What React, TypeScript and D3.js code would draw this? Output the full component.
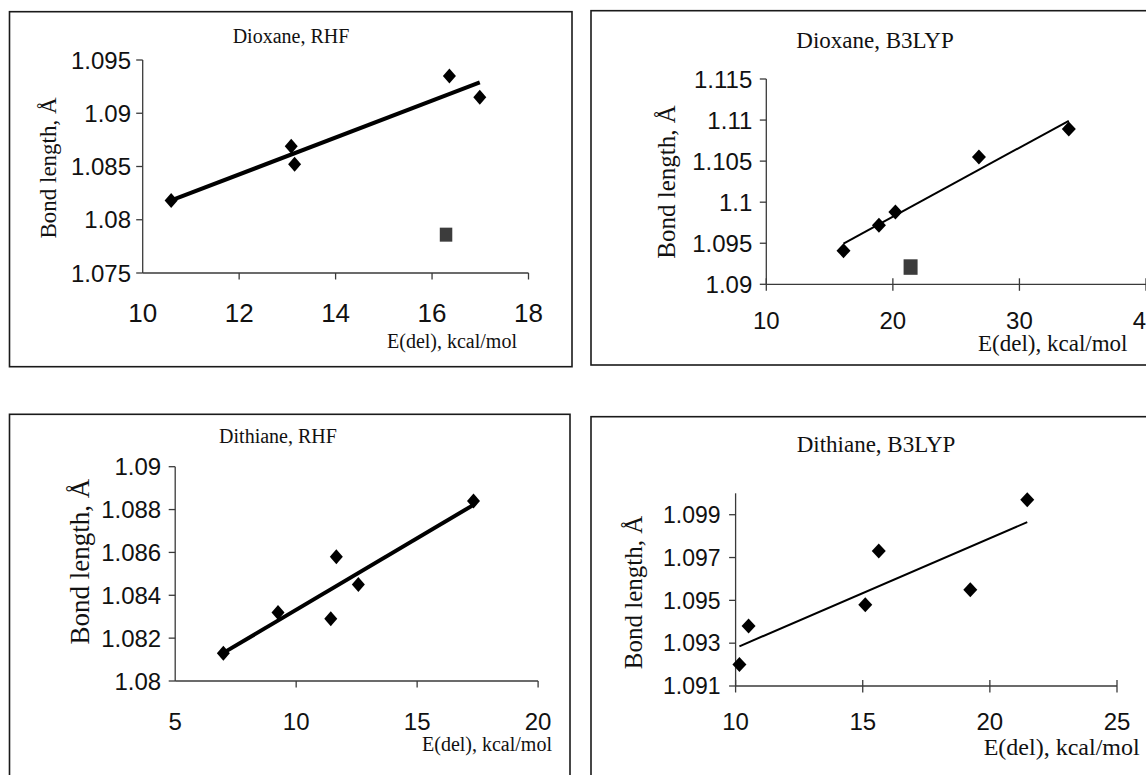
import React from "react";
import * as d3 from "d3";

// ---------- data ----------
// Dioxane, RHF
const dioxaneRhfE = [10.59, 13.08, 13.15, 16.36, 16.99];
const dioxaneRhfBond = [1.0818, 1.0869, 1.0852, 1.0935, 1.0915];
const dioxaneRhfOutE = [16.29];
const dioxaneRhfOutBond = [1.0786];
const dioxaneRhfXTicks = [10, 12, 14, 16, 18];
const dioxaneRhfYTicks = [1.075, 1.08, 1.085, 1.09, 1.095];

// Dioxane, B3LYP
const dioxaneB3E = [16.1, 18.9, 20.2, 26.8, 33.9];
const dioxaneB3Bond = [1.0941, 1.0972, 1.0988, 1.1055, 1.1089];
const dioxaneB3OutE = [21.4];
const dioxaneB3OutBond = [1.0921];
const dioxaneB3XTicks = [10, 20, 30, 40];
const dioxaneB3YTicks = [1.09, 1.095, 1.1, 1.105, 1.11, 1.115];

// Dithiane, RHF
const dithianeRhfE = [6.99, 9.25, 11.43, 11.66, 12.57, 17.33];
const dithianeRhfBond = [1.0813, 1.0832, 1.0829, 1.0858, 1.0845, 1.0884];
const dithianeRhfXTicks = [5, 10, 15, 20];
const dithianeRhfYTicks = [1.08, 1.082, 1.084, 1.086, 1.088, 1.09];

// Dithiane, B3LYP
const dithianeB3E = [10.15, 10.51, 15.1, 15.63, 19.23, 21.47];
const dithianeB3Bond = [1.092, 1.0938, 1.0948, 1.0973, 1.0955, 1.0997];
const dithianeB3XTicks = [10, 15, 20, 25];
const dithianeB3YTicks = [1.091, 1.093, 1.095, 1.097, 1.099];

const xTitle = "E(del), kcal/mol";
const yTitle = "Bond length, Å";

// ---------- helpers ----------
const fmt = (v: number) => String(+v.toFixed(3));

function regression(xs: number[], ys: number[]) {
  const mx = d3.mean(xs) as number;
  const my = d3.mean(ys) as number;
  let sxy = 0, sxx = 0;
  xs.forEach((x, i) => {
    sxy += (x - mx) * (ys[i] - my);
    sxx += (x - mx) * (x - mx);
  });
  const slope = sxy / sxx;
  return (x: number) => my + slope * (x - mx);
}

type PanelProps = {
  title: string;
  xs: number[];
  ys: number[];
  outX?: number[];
  outY?: number[];
  xTicks: number[];
  yTicks: number[];
  xDomain: [number, number];
  yDomain: [number, number];
  xRange: [number, number];
  yRange: [number, number];
  box: [number, number, number, number];
  titlePos: [number, number, number];
  xTitlePos: [number, number, number];
  yTitlePos: [number, number, number];
  xLabelOff: number;
  xLabelSize: number;
  yLabelOff: number;
  yLabelSize: number;
  lineW: number;
  dW: number;
  dH: number;
  sqW: number;
  sqH: number;
  crossX: boolean;
};

function Panel(p: PanelProps) {
  const x = d3.scaleLinear().domain(p.xDomain).range(p.xRange);
  const y = d3.scaleLinear().domain(p.yDomain).range(p.yRange);
  const fit = regression(p.xs, p.ys);
  const [xmin, xmax] = d3.extent(p.xs) as [number, number];
  const linePath = d3
    .line<number>()
    .x((d) => x(d))
    .y((d) => y(fit(d)))([xmin, xmax]);
  const diamond = `M0,${-p.dH}L${p.dW},0L0,${p.dH}L${-p.dW},0Z`;
  const axisColor = "#3a3a3a";
  const y0 = y(p.yDomain[0]);
  const x0 = x(p.xDomain[0]);
  return (
    <g>
      <rect
        x={p.box[0]}
        y={p.box[1]}
        width={p.box[2] - p.box[0]}
        height={p.box[3] - p.box[1]}
        fill="white"
        stroke="#1a1a1a"
        strokeWidth={1.6}
      />
      <text
        x={p.titlePos[0]}
        y={p.titlePos[1]}
        textAnchor="middle"
        fontFamily="'Liberation Serif', 'Times New Roman', serif"
        fontSize={p.titlePos[2]}
        fill="#111"
      >
        {p.title}
      </text>
      {/* axes */}
      <line x1={x0} x2={x(p.xDomain[1])} y1={y0} y2={y0} stroke={axisColor} strokeWidth={1.3} />
      <line x1={x0} x2={x0} y1={y0} y2={y(p.yDomain[1])} stroke={axisColor} strokeWidth={1.3} />
      {p.yTicks.map((t) => (
        <g key={"y" + t}>
          <line x1={x0 - 6.5} x2={x0} y1={y(t)} y2={y(t)} stroke={axisColor} strokeWidth={1.3} />
          <text
            x={x0 - p.yLabelOff}
            y={y(t)}
            dy="0.36em"
            textAnchor="end"
            fontFamily="'Liberation Sans', Arial, sans-serif"
            fontSize={p.yLabelSize}
            fill="#111"
          >
            {fmt(t)}
          </text>
        </g>
      ))}
      {p.xTicks.map((t) => (
        <g key={"x" + t}>
          {t !== p.xDomain[0] || p.crossX ? (
            <line
              x1={x(t)}
              x2={x(t)}
              y1={p.crossX ? y0 - 6 : y0}
              y2={y0 + 6.5}
              stroke={axisColor}
              strokeWidth={1.3}
            />
          ) : null}
          <text
            x={x(t)}
            y={y0 + p.xLabelOff}
            dy="0.36em"
            textAnchor="middle"
            fontFamily="'Liberation Sans', Arial, sans-serif"
            fontSize={p.xLabelSize}
            fill="#111"
          >
            {fmt(t)}
          </text>
        </g>
      ))}
      <text
        x={p.xTitlePos[0]}
        y={p.xTitlePos[1]}
        textAnchor="start"
        fontFamily="'Liberation Serif', 'Times New Roman', serif"
        fontSize={p.xTitlePos[2]}
        fill="#111"
      >
        {xTitle}
      </text>
      <text
        transform={`translate(${p.yTitlePos[0]},${p.yTitlePos[1]}) rotate(-90)`}
        textAnchor="middle"
        dy="0.35em"
        fontFamily="'Liberation Serif', 'Times New Roman', serif"
        fontSize={p.yTitlePos[2]}
        fill="#111"
      >
        {yTitle}
      </text>
      {/* trend line */}
      <path d={linePath || ""} stroke="#000" strokeWidth={p.lineW} fill="none" />
      {/* points */}
      {p.xs.map((v, i) => (
        <path key={"d" + i} d={diamond} transform={`translate(${x(v)},${y(p.ys[i])})`} fill="#000" />
      ))}
      {(p.outX || []).map((v, i) => (
        <rect
          key={"o" + i}
          x={x(v) - p.sqW / 2}
          y={y((p.outY as number[])[i]) - p.sqH / 2}
          width={p.sqW}
          height={p.sqH}
          fill="#3c3c3c"
        />
      ))}
    </g>
  );
}

export default function App() {
  return (
    <svg
      width={1146}
      height={775}
      style={{ position: "absolute", left: 0, top: 0, background: "white" }}
    >
      <rect width={1146} height={775} fill="white" />
      <Panel
        title="Dioxane, RHF"
        xs={dioxaneRhfE}
        ys={dioxaneRhfBond}
        outX={dioxaneRhfOutE}
        outY={dioxaneRhfOutBond}
        xTicks={dioxaneRhfXTicks}
        yTicks={dioxaneRhfYTicks}
        xDomain={[10, 18]}
        yDomain={[1.075, 1.095]}
        xRange={[142.7, 528.5]}
        yRange={[273, 60]}
        box={[9.5, 11.7, 572, 366.7]}
        titlePos={[291, 43, 20]}
        xTitlePos={[387, 348, 20]}
        yTitlePos={[48, 168, 23]}
        xLabelOff={39.7}
        xLabelSize={26}
        yLabelOff={11.7}
        yLabelSize={24}
        lineW={4}
        dW={6.5}
        dH={7.5}
        sqW={12.5}
        sqH={14}
        crossX={false}
      />
      <Panel
        title="Dioxane, B3LYP"
        xs={dioxaneB3E}
        ys={dioxaneB3Bond}
        outX={dioxaneB3OutE}
        outY={dioxaneB3OutBond}
        xTicks={dioxaneB3XTicks}
        yTicks={dioxaneB3YTicks}
        xDomain={[10, 40]}
        yDomain={[1.09, 1.115]}
        xRange={[766.3, 1146]}
        yRange={[284.3, 79]}
        box={[591, 10.7, 1160, 365]}
        titlePos={[875, 48, 23]}
        xTitlePos={[978, 351, 23]}
        yTitlePos={[666, 182, 25]}
        xLabelOff={36.5}
        xLabelSize={24}
        yLabelOff={14}
        yLabelSize={24}
        lineW={2}
        dW={7}
        dH={7.5}
        sqW={14}
        sqH={15.5}
        crossX={true}
      />
      <Panel
        title="Dithiane, RHF"
        xs={dithianeRhfE}
        ys={dithianeRhfBond}
        xTicks={dithianeRhfXTicks}
        yTicks={dithianeRhfYTicks}
        xDomain={[5, 20]}
        yDomain={[1.08, 1.09]}
        xRange={[175.2, 538.1]}
        yRange={[681, 466.7]}
        box={[9.5, 414.3, 570, 790]}
        titlePos={[278, 443, 20]}
        xTitlePos={[422, 751, 20]}
        yTitlePos={[79.6, 561.7, 27]}
        xLabelOff={40}
        xLabelSize={24}
        yLabelOff={14}
        yLabelSize={24}
        lineW={4}
        dW={6.5}
        dH={7.5}
        sqW={12}
        sqH={14}
        crossX={false}
      />
      <Panel
        title="Dithiane, B3LYP"
        xs={dithianeB3E}
        ys={dithianeB3Bond}
        xTicks={dithianeB3XTicks}
        yTicks={dithianeB3YTicks}
        xDomain={[10, 25]}
        yDomain={[1.091, 1.1]}
        xRange={[735.6, 1117]}
        yRange={[686, 493.3]}
        box={[591, 416.7, 1160, 790]}
        titlePos={[876, 451.7, 23]}
        xTitlePos={[983.7, 755, 24]}
        yTitlePos={[633.7, 592.5, 25]}
        xLabelOff={35.7}
        xLabelSize={24}
        yLabelOff={15}
        yLabelSize={23}
        lineW={2}
        dW={7}
        dH={7.5}
        sqW={14}
        sqH={15}
        crossX={true}
      />
    </svg>
  );
}
